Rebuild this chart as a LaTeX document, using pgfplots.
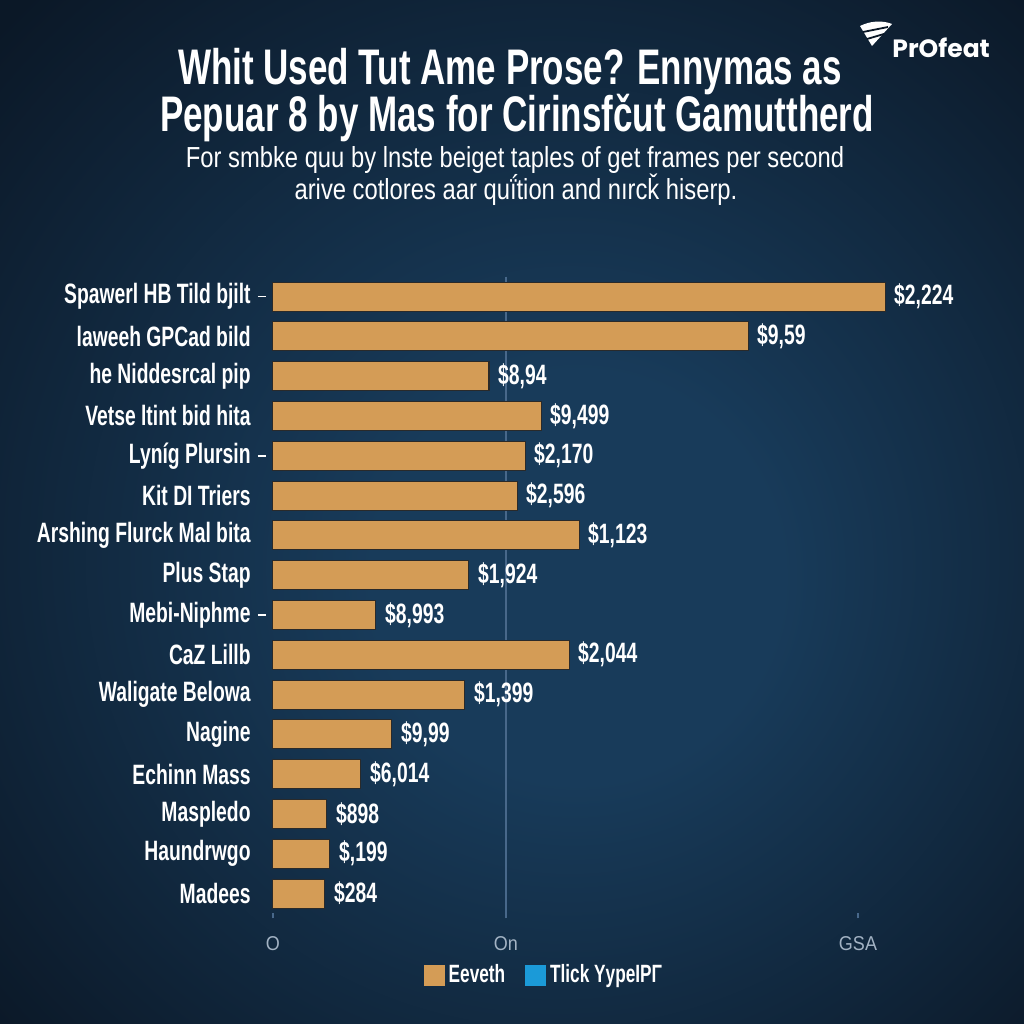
\documentclass[border=0pt]{standalone}
\usepackage{pgfplots}
\pgfplotsset{compat=1.18}
\usepackage{fontspec}
\setmainfont{Liberation Sans}
\newfontfamily\condb{Liberation Sans Bold}[FakeStretch=0.69]
\newfontfamily\titlef{Liberation Sans Bold}[FakeStretch=0.7]
\newfontfamily\subf{Liberation Sans}[FakeStretch=0.82]
\newfontfamily\tickf{Liberation Sans}[FakeStretch=0.9]
\newfontfamily\logof{Poppins}
\definecolor{bgdark}{HTML}{0B1827}
\definecolor{bgmid}{HTML}{183B5A}
\definecolor{barcol}{HTML}{D49C56}
\definecolor{baredge}{HTML}{2A2A2A}
\definecolor{legblue}{HTML}{1B9AD8}
\definecolor{ticktext}{HTML}{A3B3C4}
\definecolor{gridc}{HTML}{48688A}
\pgfdeclareradialshading{bgshade}{\pgfpoint{4bp}{-4bp}}{color(0bp)=(bgmid); color(10bp)=(bgmid); color(36bp)=(bgdark); color(50bp)=(bgdark)}
\begin{document}
\begin{tikzpicture}[x=1pt,y=1pt]
\shade[shading=bgshade] (0,0) rectangle (512,512);
% title
\node[anchor=base, text=white, inner sep=0pt, font=\titlef\fontsize{25}{25}\selectfont] at (255,469.5) {Whit Used Tut Ame Prose? Ennymas as};
\node[anchor=base, text=white, inner sep=0pt, font=\titlef\fontsize{25}{25}\selectfont] at (258.5,446) {Pepuar 8 by Mas for Cirinsfčut Gamuttherd};
\node[anchor=base, text=white, inner sep=0pt, font=\subf\fontsize{14.5}{14.5}\selectfont] at (257.5,428) {For smbke quu by lnste beiget taples of get frames per second};
\node[anchor=base, text=white, inner sep=0pt, font=\subf\fontsize{14.5}{14.5}\selectfont] at (258,412) {arive cotlores aar quḯtion and nırcǩ hiserp.};
% logo
\fill[white] (436,489) -- (446,500) .. controls (441,502) and (435,501.5) .. (430,499) -- cycle;
\draw[bgdark, line width=0.9pt] (431.5,496) -- (444,498.5);
\draw[bgdark, line width=0.9pt] (433.5,492.5) -- (442,495);
\node[anchor=base west, text=white, inner sep=0pt, font=\logof\bfseries\fontsize{12.5}{12.5}\selectfont] at (446,483) {PrOfeat};
\begin{axis}[
  at={(136.5pt,55.3pt)}, anchor=south west,
  scale only axis, width=320pt, height=318.4pt,
  xmin=0, xmax=640, ymin=0.5, ymax=16.5, y dir=reverse,
  axis line style={draw=none},
  tick pos=left,
  xtick={0,585}, xticklabels={O,GSA},
  extra x ticks={233}, extra x tick labels={On},
  extra x tick style={grid=major, major grid style={draw=gridc, line width=0.6pt}},
  x tick style={draw=gridc, line width=0.6pt},
  tick align=outside, major tick length=2.5pt,
  xticklabel style={inner sep=0pt, yshift=-9pt, anchor=north, text=ticktext, font=\tickf\fontsize{10}{10}\selectfont},
  ytick={1,...,16},
  yticklabels={Spawerl HB Tild bjilt, laweeh GPCad bild, he Niddesrcal pip, Vetse ltint bid hita, Lyníg Plursin, Kit DI Triers, Arshing Flurck Mal bita, Plus Stap, Mebi-Niphme, CaZ Lillb, Waligate Belowa, Nagine, Echinn Mass, Maspledo, Haundrwgo, Madees},
  y tick style={draw=none},
  yticklabel style={inner sep=0pt, xshift=-8.5pt, anchor=east, text=white, font=\condb\fontsize{14}{14}\selectfont},
  extra y ticks={1,5,9}, extra y tick labels={},
  extra y tick style={y tick style={draw=white, line width=0.9pt, xshift=-3.5pt}, major tick length=4pt},
  legend style={at={(rel axis cs:0.425,-0.0967)}, anchor=center, draw=none, fill=none, text=white, font=\condb\fontsize{12.5}{12.5}\selectfont, legend columns=2, /tikz/every even column/.append style={column sep=8pt}},
  clip=false,
]
\addplot[xbar, bar width=14.5pt, bar shift=0pt, fill=barcol, draw=baredge, line width=0.5pt,
  point meta=explicit symbolic,
  nodes near coords={\$\pgfplotspointmeta},
  nodes near coords style={anchor=west, xshift=1pt, text=white, font=\condb\fontsize{14}{14}\selectfont},
  forget plot] coordinates {
(612,1) [2,224]
(475,2) [9,59]
(216,3) [8,94]
(268,4) [9,499]
(252,5) [2,170]
(244,6) [2,596]
(306,7) [1,123]
(196,8) [1,924]
(103,9) [8,993]
(296,10) [2,044]
(192,11) [1,399]
(119,12) [9,99]
(88,13) [6,014]
(54,14) [898]
(57,15) [,199]
(52,16) [284]
};
\addlegendimage{legend image code/.code={\fill[barcol] (0pt,-5pt) rectangle (10pt,5pt);}}
\addlegendentry{Eeveth}
\addlegendimage{legend image code/.code={\fill[legblue] (0pt,-5pt) rectangle (10pt,5pt);}}
\addlegendentry{Tlick YypeIPΓ}
\end{axis}
\pgfresetboundingbox
\useasboundingbox (0,0) rectangle (512,512);
\end{tikzpicture}
\end{document}
